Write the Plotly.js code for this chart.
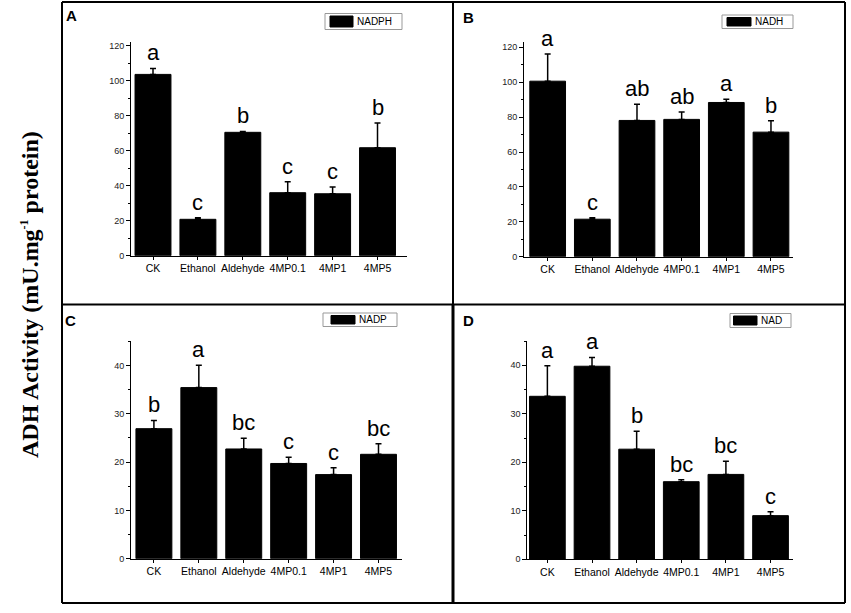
<!DOCTYPE html>
<html>
<head>
<meta charset="utf-8">
<script src="https://cdn.plot.ly/plotly-3.0.1.min.js"></script>
<style>
  html, body { margin: 0; padding: 0; background: #fff; }
  #chart { width: 851px; height: 613px; }
</style>
</head>
<body>
<div id="chart"></div>
<script>
// values (mean, upper error bar, letter groups)
var categories = ['CK', 'Ethanol', 'Aldehyde', '4MP0.1', '4MP1', '4MP5'];

var nadphMean = [103.6, 20.8, 70.5, 36.0, 35.4, 61.7];
var nadphErr = [3.4, 0.9, 0.5, 6.3, 3.8, 14.1];
var nadphLetters = ['a', 'c', 'b', 'c', 'c', 'b'];

var nadhMean = [100.6, 21.5, 78.1, 78.7, 88.4, 71.4];
var nadhErr = [15.6, 0.8, 9.3, 4.2, 1.9, 6.5];
var nadhLetters = ['a', 'c', 'ab', 'ab', 'a', 'b'];

var nadpMean = [26.9, 35.4, 22.7, 19.7, 17.4, 21.6];
var nadpErr = [1.7, 4.6, 2.2, 1.3, 1.4, 2.2];
var nadpLetters = ['b', 'a', 'bc', 'c', 'c', 'bc'];

var nadMean = [33.6, 39.8, 22.7, 16.0, 17.5, 9.0];
var nadErr = [6.3, 1.8, 3.7, 0.4, 2.7, 0.8];
var nadLetters = ['a', 'a', 'b', 'bc', 'bc', 'c'];

var W = 851, H = 613;
function px(v) { return v / W; }
function py(v) { return 1 - v / H; }

var sans = 'Arial, "Liberation Sans", sans-serif';
var zeros = [0, 0, 0, 0, 0, 0];

function barTrace(n, name, mean, err) {
  var s = n == 1 ? '' : String(n);
  return {
    type: 'bar',
    x: categories,
    y: mean,
    name: name,
    xaxis: 'x' + s,
    yaxis: 'y' + s,
    showlegend: false,
    width: 0.8,
    marker: {color: '#000', line: {color: '#000', width: 1}},
    error_y: {type: 'data', symmetric: false, array: err, arrayminus: zeros,
              color: '#000', thickness: 1.5, width: 3}
  };
}

function xAxis(n, dom, rng) {
  return {
    domain: dom, range: rng, type: 'category', anchor: 'y' + (n == 1 ? '' : n),
    showline: true, linecolor: '#000', linewidth: 1, showgrid: false, zeroline: false,
    ticks: 'outside', ticklen: 3, tickcolor: '#000', tickwidth: 1,
    tickfont: {family: sans, size: 10.5, color: '#000'}, fixedrange: true
  };
}

function yAxis(n, dom, top, step) {
  return {
    domain: dom, range: [0, top], anchor: 'x' + (n == 1 ? '' : n),
    showline: true, linecolor: '#000', linewidth: 1, showgrid: false, zeroline: false,
    dtick: step, ticks: 'outside', ticklen: 4, tickcolor: '#000', tickwidth: 1,
    minor: {dtick: step / 2, ticks: 'outside', ticklen: 2, tickcolor: '#000', showgrid: false},
    tickfont: {family: sans, size: 9, color: '#222'}, fixedrange: true
  };
}

var data = [
  barTrace(1, 'NADPH', nadphMean, nadphErr),
  barTrace(2, 'NADH', nadhMean, nadhErr),
  barTrace(3, 'NADP', nadpMean, nadpErr),
  barTrace(4, 'NAD', nadMean, nadErr)
];

// significance letters above the error bars
var annotations = [];
function addLetters(n, mean, err, letters) {
  var s = n == 1 ? '' : String(n);
  for (var i = 0; i < categories.length; i++) {
    annotations.push({
      xref: 'x' + s, yref: 'y' + s, x: categories[i], y: mean[i] + err[i],
      text: letters[i], showarrow: false, yanchor: 'bottom', yshift: 1,
      font: {family: sans, size: 22, color: '#000'}
    });
  }
}
addLetters(1, nadphMean, nadphErr, nadphLetters);
addLetters(2, nadhMean, nadhErr, nadhLetters);
addLetters(3, nadpMean, nadpErr, nadpLetters);
addLetters(4, nadMean, nadErr, nadLetters);

// panel letters
var panels = [['A', 64, 5], ['B', 461, 7], ['C', 63, 310], ['D', 461, 310]];
panels.forEach(function (p) {
  annotations.push({
    xref: 'paper', yref: 'paper', x: px(p[1]), y: py(p[2]), xanchor: 'left', yanchor: 'top',
    text: '<b>' + p[0] + '</b>', showarrow: false,
    font: {family: sans, size: 15, color: '#000'}
  });
});

// shared y title
annotations.push({
  xref: 'paper', yref: 'paper', x: px(15), y: py(295), textangle: -90,
  text: '<b>ADH Activity (mU.mg<sup><span style="font-size:12px">-1</span></sup> protein)</b>',
  showarrow: false,
  font: {family: '"Times New Roman", "Liberation Serif", serif', size: 24, color: '#000'}
});

function line(x0, y0, x1, y1, w) {
  return {type: 'line', xref: 'paper', yref: 'paper',
          x0: px(x0), y0: py(y0), x1: px(x1), y1: py(y1),
          line: {color: '#000', width: w}};
}
function rect(x0, y0, x1, y1, fill, edge) {
  return {type: 'rect', xref: 'paper', yref: 'paper',
          x0: px(x0), y0: py(y1), x1: px(x1), y1: py(y0),
          fillcolor: fill, line: {color: edge, width: 1}};
}

// panel frames
var shapes = [
  line(62, 2, 845, 2, 2),
  line(62, 603, 845, 603, 2),
  line(62, 2, 62, 603, 2),
  line(845, 2, 845, 603, 2),
  line(62, 304.5, 845, 304.5, 2),
  line(453, 2, 453, 304.5, 2),
  line(453, 304.5, 453, 603, 3)
];

// small Origin-style legend boxes: [trace, box x0, x1, y0, y1, swatch x0, x1]
var legends = [
  [0, 325, 402, 13.5, 29.5, 330, 353],
  [1, 722, 793, 15, 28.5, 727, 751],
  [2, 323, 397, 313, 326.5, 331, 355],
  [3, 730, 791, 313.5, 327.5, 733.5, 757]
];
legends.forEach(function (g) {
  shapes.push(rect(g[1], g[3], g[2], g[4], '#fff', '#999'));
  shapes.push(rect(g[5], g[3] + 2.5, g[6], g[4] - 2.5, '#000', '#000'));
  annotations.push({
    xref: 'paper', yref: 'paper', x: px(g[6] + 2), y: py((g[3] + g[4]) / 2),
    xanchor: 'left', yanchor: 'middle', text: data[g[0]].name, showarrow: false,
    font: {family: sans, size: 10, color: '#000'}
  });
});

var layout = {
  width: W, height: H,
  margin: {l: 0, r: 0, t: 0, b: 0},
  paper_bgcolor: '#fff', plot_bgcolor: '#fff',
  bargap: 0.2,
  xaxis: xAxis(1, [px(131), px(406.7)], [-0.49, 5.65]),
  yaxis: yAxis(1, [py(255.7), py(42.2)], 122, 20),
  xaxis2: xAxis(2, [px(524), px(793.3)], [-0.53, 5.5]),
  yaxis2: yAxis(2, [py(256.7), py(42.1)], 123, 20),
  xaxis3: xAxis(3, [px(131), px(402.3)], [-0.51, 5.53]),
  yaxis3: yAxis(3, [py(558.7), py(341.2)], 45, 10),
  xaxis4: xAxis(4, [px(527.3), px(793.3)], [-0.45, 5.51]),
  yaxis4: yAxis(4, [py(559.3), py(341)], 45, 10),
  annotations: annotations,
  shapes: shapes
};

Plotly.newPlot('chart', data, layout, {displayModeBar: false, staticPlot: true});
</script>
</body>
</html>
